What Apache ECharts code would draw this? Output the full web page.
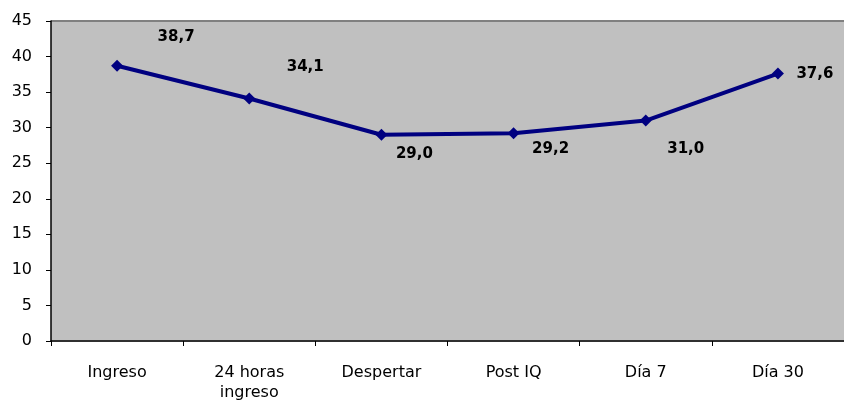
<!DOCTYPE html>
<html>
<head>
<meta charset="utf-8">
<script src="https://cdn.jsdelivr.net/npm/echarts@6/dist/echarts.min.js"></script>
<style>
  html, body { margin: 0; padding: 0; background: #ffffff; }
  #chart { width: 844px; height: 403px; }
</style>
</head>
<body>
<div id="chart"></div>
<script>
const categories = ['Ingreso', '24 horas\ningreso', 'Despertar', 'Post IQ', 'Día 7', 'Día 30'];
const values = [38.7, 34.1, 29.0, 29.2, 31.0, 37.6];
const yTicks = [0, 5, 10, 15, 20, 25, 30, 35, 40, 45];

// label offsets (styling only) relative to each point
const labelOffsets = [[59, -29], [56, -31], [33, 19], [37, 16], [40, 29], [37, 0]];

const fmt = v => v.toFixed(1).replace('.', ',');

const chart = echarts.init(document.getElementById('chart'), null, { renderer: 'canvas' });
chart.setOption({
  animation: false,
  backgroundColor: '#ffffff',
  grid: {
    left: 51, top: 21, bottom: 61, width: 802,
    show: false
  },
  xAxis: {
    type: 'category',
    data: categories,
    boundaryGap: true,
    axisLine: { lineStyle: { color: '#000000', width: 1.5 } },
    axisTick: { show: true, length: 5, lineStyle: { color: '#000000' } },
    axisLabel: {
      color: '#000000', fontFamily: 'DejaVu Sans', fontSize: 16,
      margin: 22, lineHeight: 20, interval: 0
    },
    splitLine: { show: false }
  },
  yAxis: {
    type: 'value',
    min: yTicks[0], max: yTicks[yTicks.length - 1], interval: 5,
    axisLine: { show: true, lineStyle: { color: '#000000', width: 1.5 } },
    axisTick: { show: true, length: 5, lineStyle: { color: '#000000' } },
    axisLabel: { color: '#000000', fontFamily: 'DejaVu Sans', fontSize: 16, margin: 19 },
    splitLine: { show: false }
  },
  graphic: [{
    type: 'rect',
    z: -10,
    shape: { x: 51, y: 21, width: 802, height: 321 },
    style: { fill: '#c0c0c0', stroke: null }
  }, {
    type: 'line',
    shape: { x1: 51, y1: 21, x2: 844, y2: 21 },
    style: { stroke: '#808080', lineWidth: 2 }
  }],
  series: [{
    type: 'line',
    data: values.map((v, i) => ({
      value: v,
      label: { offset: labelOffsets[i] }
    })),
    lineStyle: { color: '#000080', width: 4 },
    itemStyle: { color: '#000080' },
    symbol: 'diamond',
    symbolSize: 12,
    label: {
      show: true,
      position: 'inside',
      formatter: p => fmt(p.value),
      color: '#000000',
      fontFamily: 'DejaVu Sans',
      fontWeight: 'bold',
      fontSize: 15
    }
  }]
});
</script>
</body>
</html>
